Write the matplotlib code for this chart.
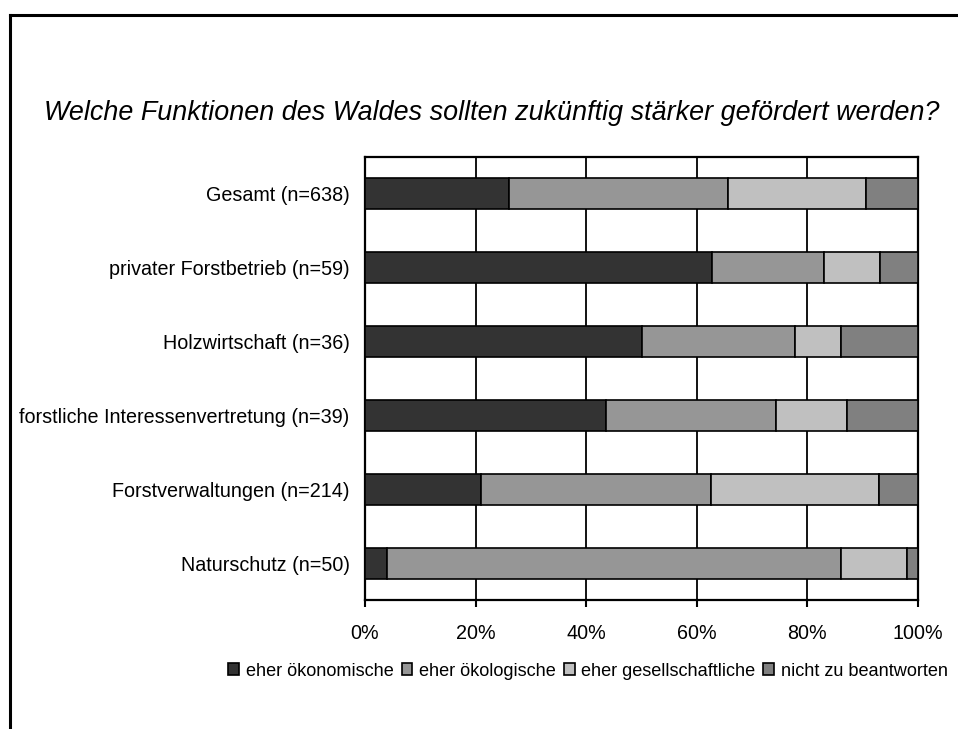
import numpy as np
import matplotlib
matplotlib.use("Agg")
import matplotlib.pyplot as plt
from matplotlib.lines import Line2D
from matplotlib.patches import Patch

plt.rcParams['font.family'] = ['Liberation Sans', 'DejaVu Sans']

# survey groups, top to bottom
groups = ["Gesamt (n=638)", "privater Forstbetrieb (n=59)", "Holzwirtschaft (n=36)",
          "forstliche Interessenvertretung (n=39)", "Forstverwaltungen (n=214)",
          "Naturschutz (n=50)"]

# shares in percent per answer
oekonomisch = [26.0, 62.7, 50.0, 43.6, 21.0, 4.0]
oekologisch = [39.7, 20.3, 27.8, 30.8, 41.6, 82.0]
gesellschaftlich = [24.9, 10.2, 8.3, 12.8, 30.4, 12.0]
keine_antwort = [9.4, 6.8, 13.9, 12.8, 7.0, 2.0]

series = [oekonomisch, oekologisch, gesellschaftlich, keine_antwort]
names = ["eher ökonomische", "eher ökologische", "eher gesellschaftliche",
         "nicht zu beantworten"]
colors = ["#333333", "#969696", "#c0c0c0", "#808080"]

fig = plt.figure(figsize=(9.58, 7.29), dpi=100)
ax = fig.add_axes([365/958, 1-600/729, 553/958, 443/729])

y = np.arange(len(groups))
left = np.zeros(len(groups))
for vals, col in zip(series, colors):
    ax.barh(y, vals, left=left, height=0.42, color=col, edgecolor='black',
            linewidth=1.2, zorder=3)
    left += np.array(vals)

ax.set_xlim(0, 100)
ax.set_ylim(len(groups) - 0.5, -0.5)
ax.set_yticks(y)
ax.set_yticklabels(groups, fontsize=14.2)
ax.tick_params(axis='y', length=0, pad=11)
ax.set_xticks(np.arange(0, 101, 20))
ax.set_xticklabels([f"{v}%" for v in range(0, 101, 20)], fontsize=14.2)
ax.tick_params(axis='x', direction='out', length=5, width=1.5, pad=12)
ax.grid(axis='x', color='black', linewidth=1.3, zorder=0)
ax.set_axisbelow(True)
for s in ax.spines.values():
    s.set_linewidth(1.6)

fig.text(492/958, 1-113/729, "Welche Funktionen des Waldes sollten zukünftig stärker gefördert werden?",
         ha='center', va='center', fontsize=19.35, style='italic')

handles = [Patch(facecolor=c, edgecolor='black', linewidth=1.2) for c in colors]
fig.legend(handles, names, loc='center', bbox_to_anchor=(588/958, 1-671/729),
           ncol=4, frameon=False, fontsize=13.1, handlelength=0.6, handleheight=0.6,
           handletextpad=0.35, columnspacing=0.45)

# outer frame, left and top edges
fig.add_artist(Line2D([9.5/958, 9.5/958], [0, 1-14.5/729], color='black', linewidth=2.2,
                      transform=fig.transFigure, solid_capstyle='projecting'))
fig.add_artist(Line2D([9.5/958, 1], [1-14.5/729, 1-14.5/729], color='black', linewidth=2.2,
                      transform=fig.transFigure, solid_capstyle='projecting'))

fig.savefig("out.png", dpi=100)
